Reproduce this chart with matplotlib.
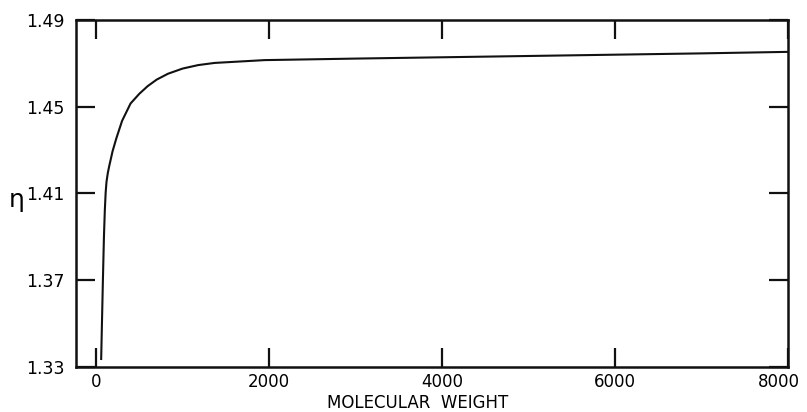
import matplotlib
matplotlib.use("Agg")
import matplotlib.pyplot as plt
import matplotlib.transforms as mtransforms

# values
mw = [58, 68, 78, 90, 100, 110, 120, 135, 152, 190, 234, 300, 398, 500, 596,
      700, 830, 1000, 1180, 1370, 1950, 3000, 4000, 5000, 6000, 7000, 8000]
eta = [1.3337, 1.352, 1.370, 1.390, 1.402, 1.4105, 1.4155, 1.4195, 1.4228,
       1.4295, 1.4355, 1.4435, 1.4515, 1.4560, 1.4595, 1.4625, 1.4652, 1.4676,
       1.4692, 1.4702, 1.4715, 1.4722, 1.4728, 1.4734, 1.4740, 1.4746, 1.4753]

xticks = [0, 2000, 4000, 6000, 8000]
yticks = [1.33, 1.37, 1.41, 1.45, 1.49]

fig = plt.figure(figsize=(8.07, 4.12), dpi=100)
ax = fig.add_axes([0.0942, 0.1092, 0.8818, 0.8423])

ax.plot(mw, eta, color='#111111', lw=1.5)

ax.set_xlim(-233, 8000)
ax.set_ylim(1.33, 1.49)
ax.set_xticks(xticks)
ax.set_yticks(yticks)
ax.set_yticklabels(['1.33', '1.37', '1.41', '1.45', '1.49'])

for s in ax.spines.values():
    s.set_linewidth(1.8)
    s.set_color('#111111')

ax.tick_params(direction='in', length=14, width=1.6, color='#111111',
               top=True, right=True, labelsize=12)
ax.tick_params(axis='y', pad=8, labelsize=12.5)
ax.tick_params(axis='x', pad=4.5)

# the last label sits a little left of the corner, as in the reference
last = ax.get_xticklabels()[-1]
last.set_transform(last.get_transform() +
                   mtransforms.ScaledTranslation(-6 / 72, 0, fig.dpi_scale_trans))

fig.text(0.517, 0.0, 'MOLECULAR  WEIGHT', fontsize=12, ha='center', va='bottom')
ax.text(-0.083, 0.48, 'η', transform=ax.transAxes, fontsize=18,
        ha='center', va='center')

fig.savefig('out.png', dpi=100)
